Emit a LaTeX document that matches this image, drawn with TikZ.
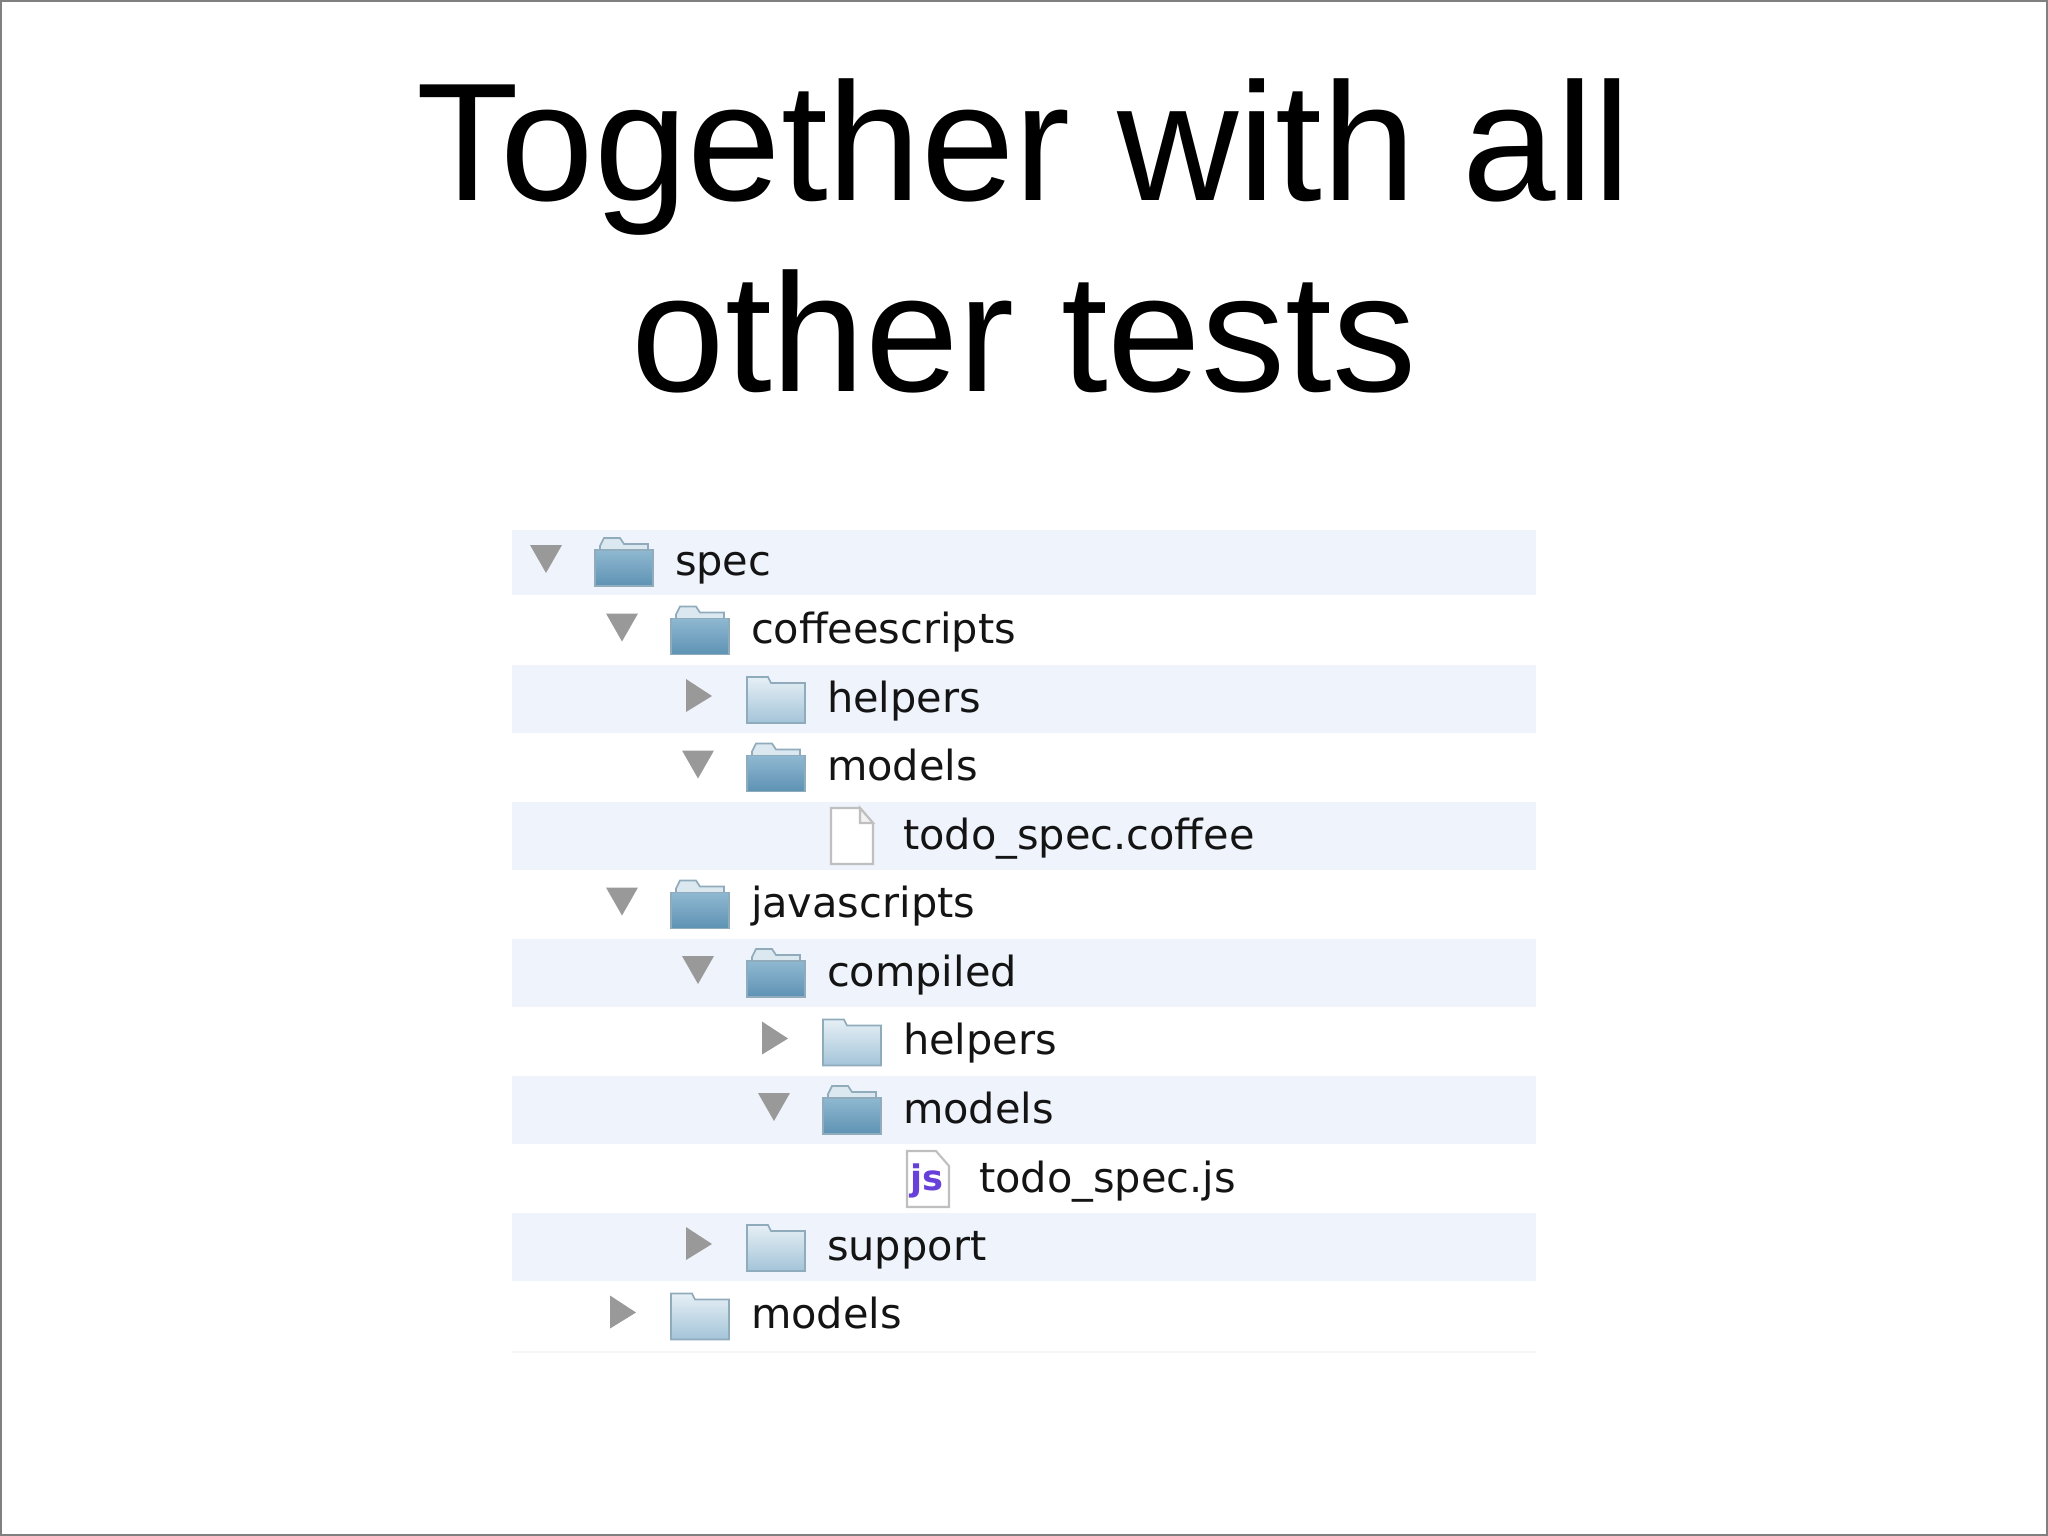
\documentclass[tikz,border=0pt]{standalone}
\usepackage{fontspec}
\setmainfont{Liberation Sans}
\newfontfamily\rowfont{DejaVu Sans}
\definecolor{bandblue}{HTML}{EEF3FC}
\definecolor{folderline}{HTML}{8FABBC}
\definecolor{foldertab}{HTML}{DCE8F0}
\definecolor{darktop}{HTML}{8FB8D1}
\definecolor{darkbottom}{HTML}{5E92B3}
\definecolor{lighttop}{HTML}{E6EFF5}
\definecolor{lightbottom}{HTML}{A3C4D8}
\begin{document}
\begin{tikzpicture}[x=0.01cm,y=-0.01cm]
	\tikzstyle{every node}=[inner sep=0pt,outer sep=0pt]
	\tikzstyle{title}=[align=center,font=\fontsize{47.8}{54.5}\selectfont]
	\tikzstyle{entry}=[anchor=base west,font=\rowfont\fontsize{11.8}{14}\selectfont,text=black!92]
	\tikzstyle{band}=[fill=bandblue,draw=none]
	\tikzstyle{twist}=[fill=black!40,draw=none]
	\tikzstyle{tab}=[draw=folderline,line width=0.5pt]
	\tikzset{
		down/.pic={\path[twist] (-16,-17) -- (16,-17) -- (0,11) -- cycle;},
		right/.pic={\path[twist] (-12,-20) -- (14,-3) -- (-12,13) -- cycle;},
		openfolder/.pic={
			\path[tab,fill=foldertab] (-24,-16) -- (-20,-24) -- (-4,-24) -- (0,-18) -- (24,-18) -- (24,-8) -- (-24,-8) -- cycle;
			\path[tab,top color=darktop,bottom color=darkbottom] (-29,-12) -- (29,-12) -- (29,24) -- (-29,24) -- cycle;
		},
		closedfolder/.pic={
			\path[tab,top color=lighttop,bottom color=lightbottom] (-29,-22) -- (-8,-22) -- (-5,-16) -- (29,-16) -- (29,24) -- (-29,24) -- cycle;
		},
		plainfile/.pic={
			\path[draw=black!25,fill=white,line width=0.6pt] (-21,-28) -- (8,-28) -- (21,-13) -- (21,28) -- (-21,28) -- cycle;
			\path[draw=black!25,fill=black!5,line width=0.6pt] (8,-28) -- (8,-13) -- (21,-13) -- cycle;
		},
		jsfile/.pic={
			\path[draw=black!25,fill=white,line width=0.6pt] (-21,-28) -- (8,-28) -- (21,-13) -- (21,28) -- (-21,28) -- cycle;
			\node (jsmark) [font=\rowfont\bfseries\fontsize{10}{10}\selectfont,text=blue!60!violet!75] at (-1,2) {js};
		}
	}
	\path[use as bounding box] (0,0) rectangle (2048,1536);
	\draw[black!50,line width=0.5pt] (1,1) rectangle (2047,1535);
	\path[band] (512,530) rectangle (1536,595);
	\foreach \row in {2,4,6,8,10}
		\path[band] (512,528+68.5*\row) rectangle (1536,596+68.5*\row);
	\draw[black!4,line width=0.8pt] (512,1352) -- (1536,1352);
	\node (heading) [title] at (1024,236) {Together with all\\other tests};
	\foreach \row/\lev/\arrow/\icon/\name in {
		0/0/down/openfolder/spec,
		1/1/down/openfolder/coffeescripts,
		2/2/right/closedfolder/helpers,
		3/2/down/openfolder/models,
		5/1/down/openfolder/javascripts,
		6/2/down/openfolder/compiled,
		7/3/right/closedfolder/helpers,
		8/3/down/openfolder/models,
		10/2/right/closedfolder/support,
		11/1/right/closedfolder/models}
	{
		\pic at (546+76*\lev,562+68.5*\row) {\arrow};
		\pic at (624+76*\lev,562+68.5*\row) {\icon};
		\node (row\row) [entry] at (675+76*\lev,575+68.5*\row) {\name};
	}
	\pic at (852,836) {plainfile};
	\node (row4) [entry] at (903,849) {todo\_spec.coffee};
	\pic at (928,1179) {jsfile};
	\node (row9) [entry] at (979,1192) {todo\_spec.js};
\end{tikzpicture}
\end{document}
